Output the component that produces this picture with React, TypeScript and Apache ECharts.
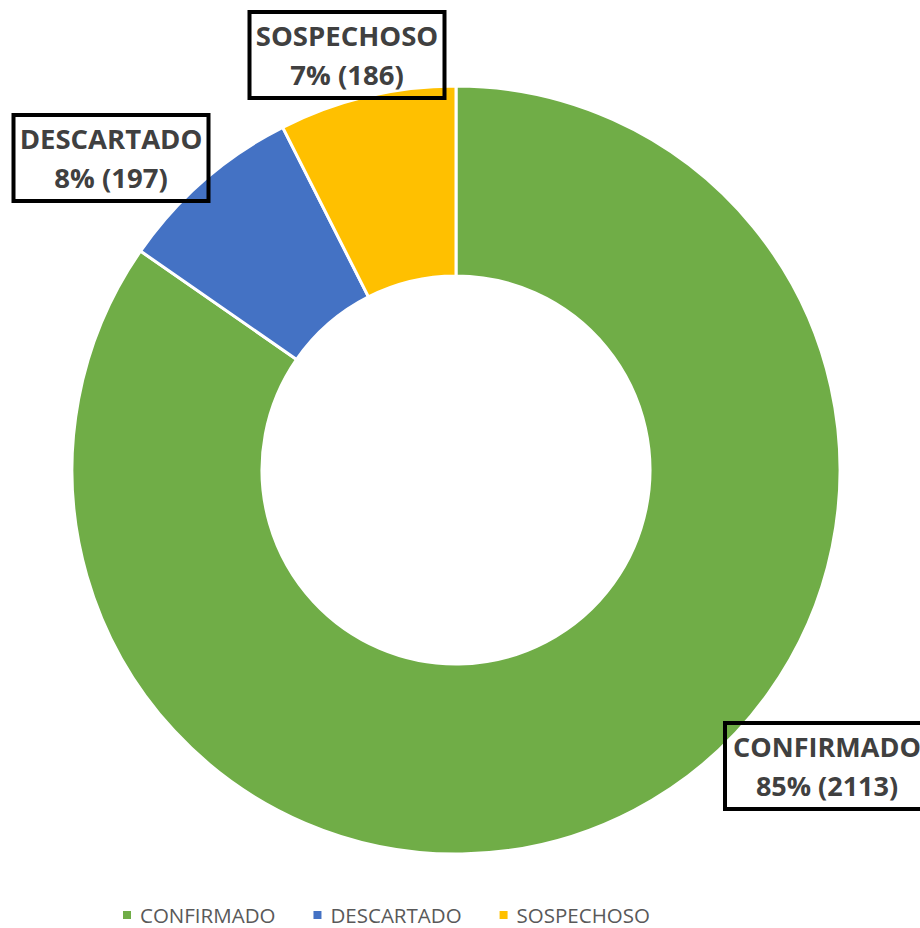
import React, { useEffect, useRef } from "react";
import * as echarts from "echarts";

const categories = ["CONFIRMADO", "DESCARTADO", "SOSPECHOSO"];
const values = [2113, 197, 186];
const colors = ["#70AD47", "#4472C4", "#FFC000"];
// label box centres (layout only)
const labelCentres: [number, number][] = [
  [827, 766],
  [111, 158],
  [347, 55],
];
const labelWidths = [192, 183, 183];

export default function App() {
  const ref = useRef<HTMLDivElement>(null);
  useEffect(() => {
    if (!ref.current) return;
    const chart = echarts.init(ref.current, null, { renderer: "svg" });
    chart.setOption({
      animation: false,
      backgroundColor: "#ffffff",
      legend: {
        data: categories,
        top: 904,
        left: 121,
        padding: 0,
        icon: "rect",
        itemWidth: 10,
        itemHeight: 10,
        itemGap: 36,
        textStyle: {
          fontFamily: "Open Sans",
          fontSize: 20.5,
          lineHeight: 22,
          color: "#595959",
          padding: [0, 0, 0, 3],
        },
      },
      series: [
        {
          type: "pie",
          center: [456, 470],
          radius: [194, 384],
          startAngle: 90,
          clockwise: true,
          percentPrecision: 0,
          itemStyle: { borderColor: "#ffffff", borderWidth: 3 },
          labelLine: { show: false },
          label: {
            show: true,
            position: "outside",
            formatter: "{b}\n{d}% ({c})",
            fontFamily: "Open Sans",
            fontWeight: "bold",
            fontSize: 27.5,
            lineHeight: 39,
            color: "#404040",
            align: "center",
            overflow: "none",
            borderColor: "#000000",
            borderWidth: 2,
            padding: [4, 6, 4, 6],
            backgroundColor: "transparent",
          },
          labelLayout: (p: any) => ({
            x: labelCentres[p.dataIndex][0],
            y: labelCentres[p.dataIndex][1],
            align: "center",
            verticalAlign: "middle",
          }),
          data: categories.map((c, i) => ({
            name: c,
            value: values[i],
            itemStyle: { color: colors[i] },
            label: {
              width: labelWidths[i],
              fontSize: i === 0 ? 27 : 27.5,
            },
          })),
        },
      ],
    });
    return () => chart.dispose();
  }, []);
  return (
    <div
      ref={ref}
      style={{ position: "fixed", left: 0, top: 0, width: 920, height: 928 }}
    />
  );
}
